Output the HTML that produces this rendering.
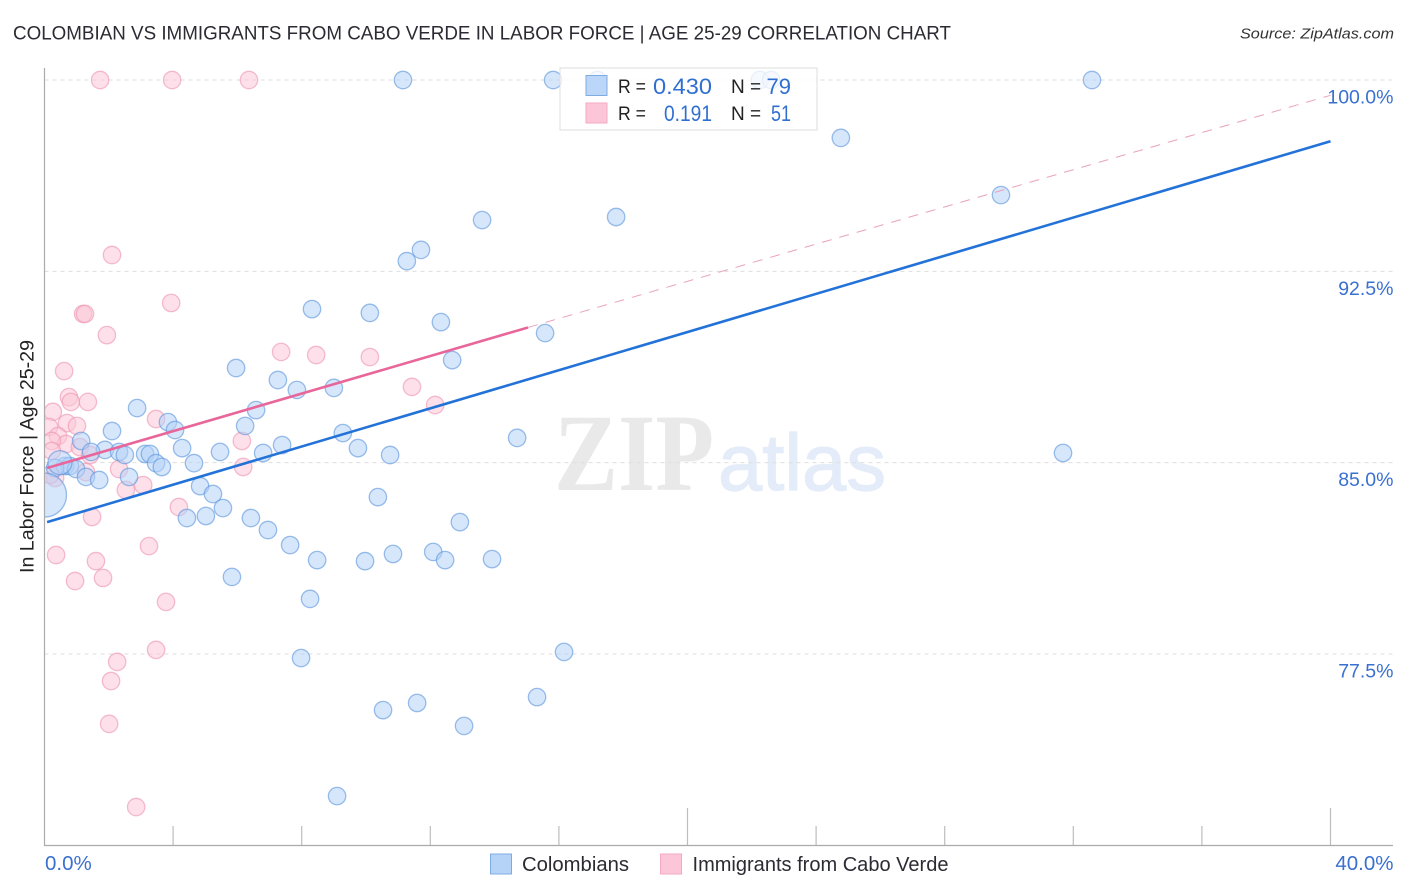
<!DOCTYPE html>
<html>
<head>
<meta charset="utf-8">
<title>Colombian vs Immigrants from Cabo Verde in Labor Force</title>
<style>
html,body{margin:0;padding:0;background:#fff;width:1406px;height:892px;overflow:hidden}
svg{display:block;font-family:"Liberation Sans",sans-serif}
</style>
</head>
<body>
<svg id="chart" width="1406" height="892" viewBox="0 0 1406 892" xmlns="http://www.w3.org/2000/svg">
  <defs><clipPath id="plot-clip"><rect x="44.5" y="60" width="1349" height="785"/></clipPath></defs>
  <text x="13" y="39.5" font-size="19.5" fill="#2b2b33" textLength="938" lengthAdjust="spacingAndGlyphs">COLOMBIAN VS IMMIGRANTS FROM CABO VERDE IN LABOR FORCE | AGE 25-29 CORRELATION CHART</text>
  <text x="1394" y="38.5" font-size="15" font-style="italic" fill="#333" text-anchor="end" textLength="154" lengthAdjust="spacingAndGlyphs">Source: ZipAtlas.com</text>
  <g>
    <text x="554" y="490" font-family="'Liberation Serif',serif" font-size="110" font-weight="700" fill="#e9e9e9" textLength="160" lengthAdjust="spacingAndGlyphs">ZIP</text>
    <text x="718" y="490" font-size="80" fill="#e3ecf8" stroke="#e3ecf8" stroke-width="1.2" textLength="168" lengthAdjust="spacingAndGlyphs">atlas</text>
  </g>
  <g id="grid"></g>
  <g id="marks" clip-path="url(#plot-clip)"></g>
  <rect x="0" y="60" width="44.5" height="786" fill="#fff"/>
  <g id="axes"></g>
  <g id="trends"></g>
  <g id="ylabels"></g>
  <g id="xlabels"></g>
  <text transform="translate(33.5,456.5) rotate(-90)" font-size="19" fill="#222" text-anchor="middle" textLength="233" lengthAdjust="spacingAndGlyphs">In Labor Force | Age 25-29</text>

  <g>
    <rect x="560" y="68" width="257" height="62" fill="#fff" fill-opacity="0.78" stroke="#dcdcdc" stroke-width="1"/>
    <rect x="586" y="75.5" width="21" height="20" fill="#b5d2f7" fill-opacity="0.9" stroke="#7fabe3"/>
    <rect x="586" y="103" width="21" height="20" fill="#fcc6d8" stroke="#f3a9c2"/>
    <text x="618" y="93" font-size="19" fill="#222" textLength="28" lengthAdjust="spacingAndGlyphs">R =</text>
    <text x="653" y="94" font-size="22" fill="#2f6fd0" textLength="59" lengthAdjust="spacingAndGlyphs">0.430</text>
    <text x="731" y="93" font-size="19" fill="#222">N =</text>
    <text x="791" y="94" font-size="22" fill="#2f6fd0" text-anchor="end">79</text>
    <text x="618" y="120" font-size="19" fill="#222" textLength="28" lengthAdjust="spacingAndGlyphs">R =</text>
    <text x="664" y="121" font-size="22" fill="#2f6fd0" textLength="48" lengthAdjust="spacingAndGlyphs">0.191</text>
    <text x="731" y="120" font-size="19" fill="#222">N =</text>
    <text x="771" y="121" font-size="22" fill="#2f6fd0" textLength="20" lengthAdjust="spacingAndGlyphs">51</text>
  </g>

  <g>
    <rect x="490.5" y="854" width="21" height="20" fill="#b5d2f7" stroke="#7fabe3"/>
    <text x="522" y="871" font-size="20" fill="#2b2b33" textLength="107" lengthAdjust="spacingAndGlyphs">Colombians</text>
    <rect x="660.5" y="854" width="21" height="20" fill="#fcc6d8" stroke="#f3a9c2"/>
    <text x="692.5" y="871" font-size="20" fill="#2b2b33" textLength="256" lengthAdjust="spacingAndGlyphs">Immigrants from Cabo Verde</text>
  </g>
</svg>
<script>
// ---- chart data (x = share %, y = in labor force %) ----
const colombianX = [11.15,15.82,17.2,22.25,22.6,32.58,24.77,29.75,17.78,13.61,11.71,11.27,8.32,10.12,12.33,15.57,12.68,5.96,7.26,7.85,9.0,2.88,6.58,3.84,4.06,2.1,6.24,9.28,14.7,1.14,9.75,1.88,2.32,2.5,1.45,3.13,3.28,4.28,5.46,6.8,7.39,10.75,31.68,3.47,3.65,4.65,0.64,0.79,0.98,0.33,1.29,1.7,2.63,4.84,5.24,10.37,5.55,5.02,4.43,6.42,12.92,6.95,7.64,12.09,10.84,8.48,9.97,12.46,13.92,5.83,8.26,16.16,7.98,15.32,11.59,10.53,13.05,9.1];
const colombianY = [100,100,100,100,100,100,97.73,95.49,94.63,94.51,93.34,92.9,91.02,90.87,90.51,90.08,89.02,88.71,88.24,87.85,87.93,87.14,87.06,86.59,86.28,86.24,86.44,86.16,85.97,85.85,85.57,85.5,85.42,85.3,85.42,85.34,85.34,85.57,85.42,85.38,85.69,85.3,85.38,84.98,84.83,84.98,84.87,84.87,84.75,84.79,84.44,84.32,84.44,84.08,83.77,83.65,83.22,82.91,82.83,82.83,82.67,82.36,81.77,81.5,81.42,81.18,81.14,81.18,81.22,80.52,79.66,77.58,77.34,75.81,75.58,75.3,74.68,71.93];
const colombianLargeX = [0.0,0.48];
const colombianLargeY = [83.73,85.0];
const colombianLargeWeight = [22,12];
const caboVerdeX = [1.73,3.97,6.36,2.1,3.94,1.2,1.26,1.94,7.36,8.45,10.12,0.61,11.43,0.76,0.82,1.35,12.15,0.26,3.47,0.7,0.14,1.01,0.42,0.67,6.14,0.23,1.1,0.23,1.42,6.18,2.32,1.29,0.33,0.17,3.07,2.53,4.18,1.48,3.25,0.36,1.6,0.95,1.82,3.78,3.47,2.26,2.07,2.01,2.85];
const caboVerdeY = [100,100,100,93.14,91.26,90.83,90.83,90.0,89.34,89.22,89.14,88.59,87.97,87.57,87.38,87.38,87.26,86.99,86.71,86.55,86.4,86.44,86.04,85.73,85.85,85.85,85.61,85.46,85.3,84.83,84.75,84.63,84.4,84.52,84.12,83.93,83.26,82.87,81.73,81.38,81.14,80.36,80.48,79.54,77.66,77.19,76.44,74.76,71.5];
const colombianTrendX = [0.08,40];
const colombianTrendY = [82.67,97.6];
const caboVerdeTrendX = [0.08,15.04];
const caboVerdeTrendY = [84.79,90.3];
const caboVerdeDashX = [15.04,40];
const caboVerdeDashY = [90.3,99.4];
const yTicks = [100,92.5,85,77.5];
const yTickLabels = ["100.0%","92.5%","85.0%","77.5%"];
const xTicks = [0,4,8,12,16,20,24,28,32,36,40];
const xMajorTicks = [20,40];
const xEndTicks = [0,40];
const xEndLabels = ["0.0%","40.0%"];

// ---- axis functions ----
function xScale(v){ return 44.5 + (v / 40) * 1286; }
function yScale(v){ return 80 + (100 - v) * 25.51; }

const NS = 'http://www.w3.org/2000/svg';
function make(tag, parent, attrs){
  const el = document.createElementNS(NS, tag);
  for (const k in attrs) el.setAttribute(k, attrs[k]);
  document.getElementById(parent).appendChild(el);
  return el;
}

yTicks.forEach(function(t, i){
  const line = make('line','grid',{x1:44.5,x2:1393,y1:yScale(t),y2:yScale(t),stroke:'#dedede','stroke-width':1,'stroke-dasharray':'4 4'});
  
  
  const label = make('text','ylabels',{x:1393.5,y:yScale(t)+23.5,'font-size':19.5,fill:'#3a70cf','text-anchor':'end'});
  label.textContent = yTickLabels[i];
  
  
});

xTicks.forEach(function(t){
  const top = xMajorTicks.indexOf(t) >= 0 ? 808 : 826;
  if (t === 0) return;
  const tick = make('line','axes',{x1:xScale(t),x2:xScale(t),y1:top,y2:845,stroke:'#bdbdbd','stroke-width':1.2});
  
  
});

const yAxisLine = make('line','axes',{x1:44.5,x2:44.5,y1:68,y2:845.5,stroke:'#ababab','stroke-width':1.2});


const xAxisLine = make('line','axes',{x1:44,x2:1393,y1:845.5,y2:845.5,stroke:'#ababab','stroke-width':1.2});



xEndTicks.forEach(function(t, i){
  const label = make('text','xlabels',{x:i === 0 ? 45 : 1393.5,y:870,'font-size':20.5,fill:'#3a70cf','text-anchor':i === 0 ? 'start' : 'end'});
  label.textContent = xEndLabels[i];
  
  
});

function drawPoint(x, y, r, fill, stroke){
  const c = make('circle','marks',{cx:xScale(x),cy:yScale(y),r:r,fill:fill,'fill-opacity':0.55,stroke:stroke,'stroke-opacity':0.6,'stroke-width':1.3});
  return c;
}
caboVerdeX.forEach(function(x, i){
  const c = drawPoint(x, caboVerdeY[i], 8.7, '#fbc6d7', '#ee93b1');
  
  
});
colombianX.forEach(function(x, i){
  const c = drawPoint(x, colombianY[i], 8.7, '#b5d2f7', '#5a94dc');
  
  
});
colombianLargeX.forEach(function(x, i){
  const c = drawPoint(x, colombianLargeY[i], colombianLargeWeight[i], '#b5d2f7', '#5a94dc');
  
  
});

const dashTrend = make('line','trends',{x1:xScale(caboVerdeDashX[0]),y1:yScale(caboVerdeDashY[0]),x2:xScale(caboVerdeDashX[1]),y2:yScale(caboVerdeDashY[1]),stroke:'#e9a3bb','stroke-width':1,'stroke-dasharray':'10 8'});


const pinkTrend = make('line','trends',{x1:xScale(caboVerdeTrendX[0]),y1:yScale(caboVerdeTrendY[0]),x2:xScale(caboVerdeTrendX[1]),y2:yScale(caboVerdeTrendY[1]),stroke:'#e8669a','stroke-width':2.6});


const blueTrend = make('line','trends',{x1:xScale(colombianTrendX[0]),y1:yScale(colombianTrendY[0]),x2:xScale(colombianTrendX[1]),y2:yScale(colombianTrendY[1]),stroke:'#2272d8','stroke-width':2.6});


</script>
</body>
</html>
